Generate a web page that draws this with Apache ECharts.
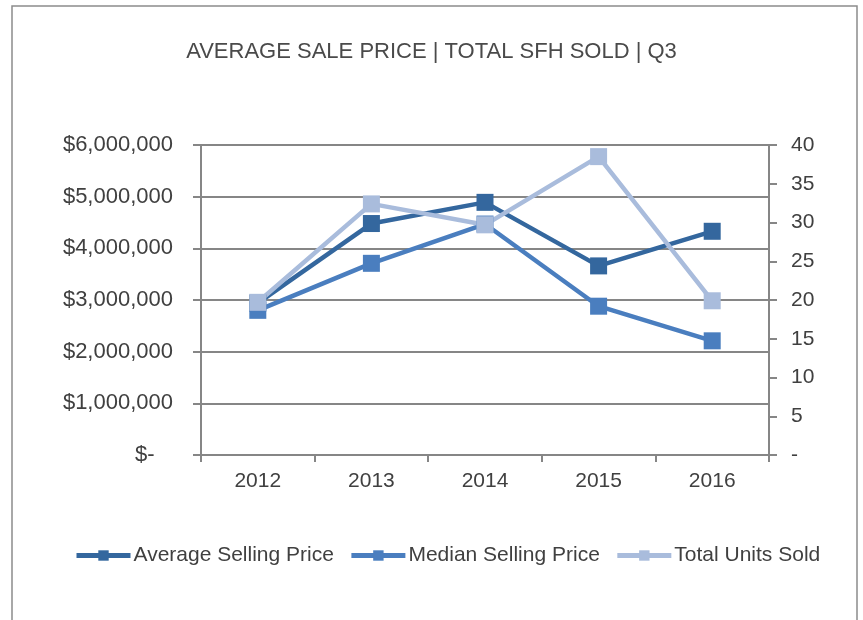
<!DOCTYPE html>
<html>
<head>
<meta charset="utf-8">
<script src="https://cdn.jsdelivr.net/npm/echarts@6/dist/echarts.min.js"></script>
<style>
  html, body { margin: 0; padding: 0; background: #fff; }
  #main { width: 863px; height: 620px; }
</style>
</head>
<body>
<div id="main"></div>
<script>
var years = ['2012', '2013', '2014', '2015', '2016']
var avgPrice = [2940000, 4480000, 4890000, 3660000, 4330000]
var medianPrice = [2800000, 3710000, 4470000, 2880000, 2210000]
var unitsSold = [19.7, 32.4, 29.7, 38.5, 19.9]

var myChart = echarts.init(document.querySelector('#main'))

var axisGray = '#868686'
var textGray = '#404040'
var font = 'Liberation Sans, Arial, sans-serif'

var option = {
  backgroundColor: '#fff',
  animation: false,
  textStyle: { fontFamily: font },
  title: {
    text: 'AVERAGE SALE PRICE | TOTAL SFH SOLD | Q3',
    left: 'center',
    top: 36,
    textStyle: {
      fontFamily: font,
      fontSize: 22,
      fontWeight: 'normal',
      color: '#4a4a4a'
    }
  },
  graphic: [{
    type: 'rect',
    shape: { x: 12, y: 6, width: 845, height: 640 },
    style: { fill: 'none', stroke: '#8c8c8c', lineWidth: 1.5 },
    silent: true
  }],
  legend: {
    bottom: 49,
    left: 69,
    itemWidth: 54,
    itemHeight: 13,
    itemGap: 15,
    lineStyle: { width: 5 },
    textStyle: { fontSize: 21, color: textGray, fontFamily: font, padding: [0, 0, 0, -2] },
    data: ['Average Selling Price', 'Median Selling Price', 'Total Units Sold']
  },
  grid: { left: 201, right: 94, top: 145, bottom: 165 },
  xAxis: {
    type: 'category',
    data: years,
    boundaryGap: true,
    axisLine: { lineStyle: { color: axisGray, width: 2 } },
    axisTick: { show: true, length: 7, lineStyle: { color: axisGray, width: 2 } },
    axisLabel: { fontSize: 21, color: textGray, margin: 16 }
  },
  yAxis: [{
    type: 'value',
    min: 0,
    max: 6000000,
    interval: 1000000,
    axisLine: { show: true, lineStyle: { color: axisGray, width: 2 } },
    axisTick: { show: true, length: 8, lineStyle: { color: axisGray, width: 2 } },
    splitLine: { lineStyle: { color: axisGray, width: 2 } },
    axisLabel: {
      fontSize: 22,
      color: textGray,
      margin: 28,
      formatter: function (v) {
        if (v === 0) return '$-   '
        return '$' + v.toLocaleString('en-US')
      }
    }
  }, {
    type: 'value',
    min: 0,
    max: 40,
    interval: 5,
    position: 'right',
    axisLine: { show: true, lineStyle: { color: axisGray, width: 2 } },
    axisTick: { show: true, length: 8, lineStyle: { color: axisGray, width: 2 } },
    splitLine: { show: false },
    axisLabel: {
      fontSize: 21,
      color: textGray,
      margin: 22,
      formatter: function (v) { return v === 0 ? '-' : String(v) }
    }
  }],
  series: [{
    name: 'Average Selling Price',
    type: 'line',
    data: avgPrice,
    yAxisIndex: 0,
    symbol: 'rect',
    symbolSize: 17,
    itemStyle: { color: '#34679e' },
    lineStyle: { width: 4.5, color: '#34679e' }
  }, {
    name: 'Median Selling Price',
    type: 'line',
    data: medianPrice,
    yAxisIndex: 0,
    symbol: 'rect',
    symbolSize: 17,
    itemStyle: { color: '#4a7ebf' },
    lineStyle: { width: 4.5, color: '#4a7ebf' }
  }, {
    name: 'Total Units Sold',
    type: 'line',
    data: unitsSold,
    yAxisIndex: 1,
    symbol: 'rect',
    symbolSize: 17,
    itemStyle: { color: '#a9bcdc' },
    lineStyle: { width: 4.5, color: '#a9bcdc' }
  }]
}

myChart.setOption(option)
</script>
</body>
</html>
